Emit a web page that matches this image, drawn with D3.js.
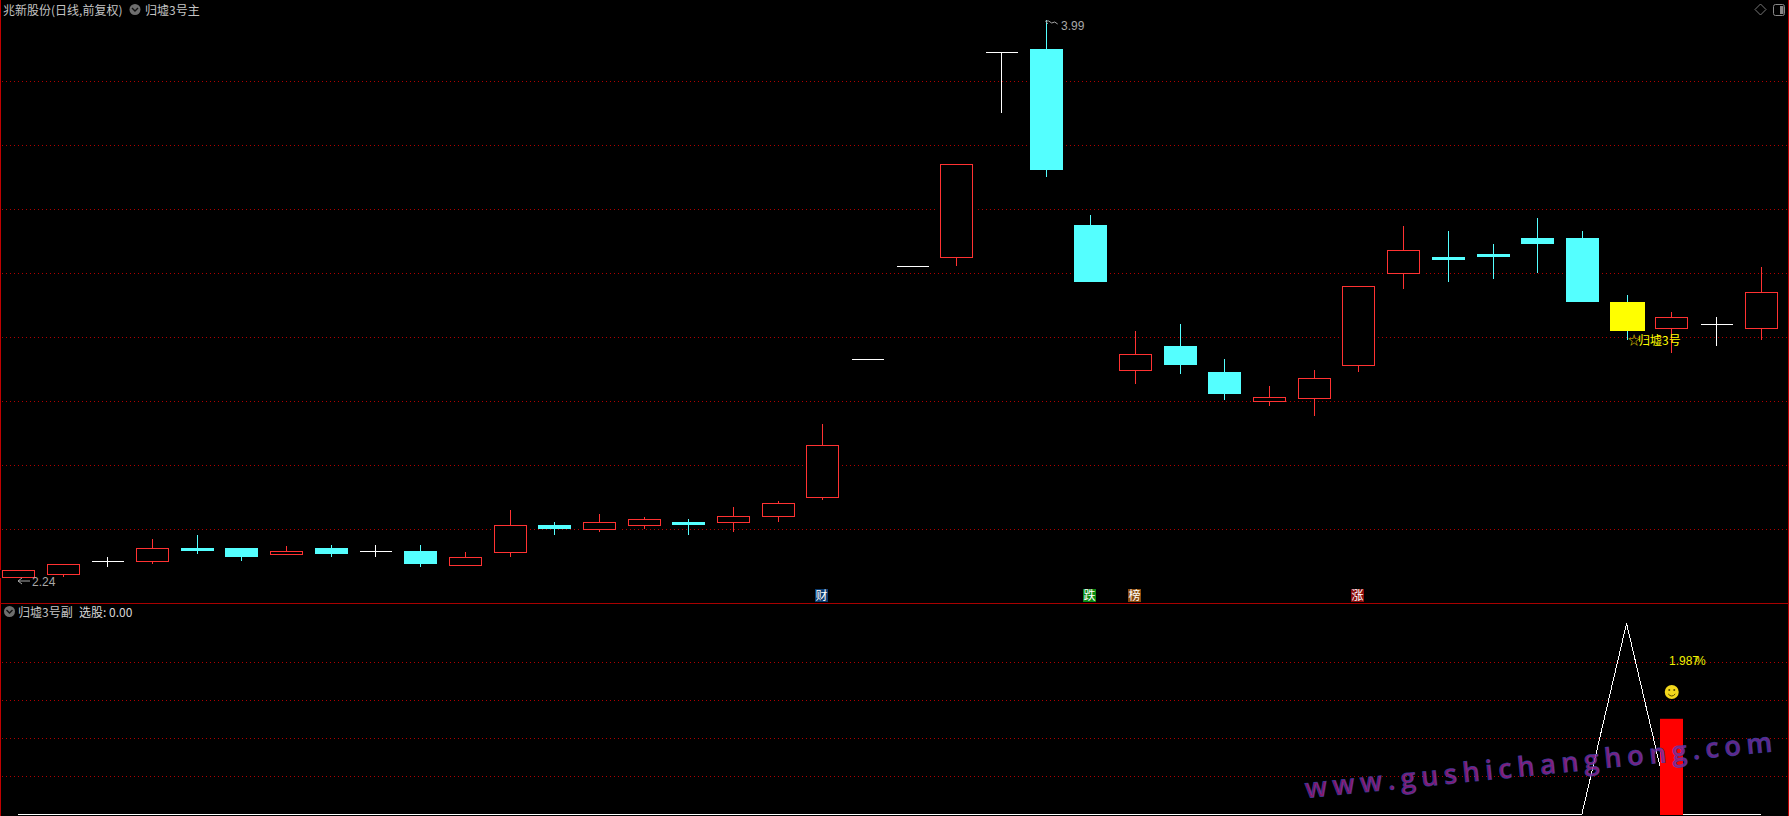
<!DOCTYPE html>
<html><head><meta charset="utf-8">
<script src="https://cdnjs.cloudflare.com/ajax/libs/d3/7.8.5/d3.min.js"></script>
<style>
html,body{margin:0;padding:0;background:#000;overflow:hidden}
svg{display:block}
text{font-family:"Noto Sans CJK SC","Liberation Sans",sans-serif}
</style></head><body><div id="c"></div>
<script>
const open  = [2.248,2.260,2.299,2.298,2.341,2.341,2.320,2.341,2.330,2.331,2.288,2.329,2.413,2.398,2.410,2.422,2.420,2.438,2.498,2.930,3.221,3.248,3.890,3.900,3.350,2.898,2.973,2.891,2.800,2.810,2.910,3.198,3.250,3.259,3.309,3.309,3.109,3.029,3.040,3.029];
const close = [2.271,2.290,2.299,2.340,2.331,2.313,2.330,2.322,2.330,2.291,2.312,2.412,2.400,2.421,2.430,2.413,2.440,2.480,2.662,2.930,3.221,3.540,3.890,3.522,3.172,2.948,2.913,2.822,2.813,2.871,3.158,3.271,3.241,3.250,3.291,3.109,3.019,3.062,3.040,3.140];
const high  = [2.271,2.290,2.313,2.368,2.381,2.341,2.347,2.350,2.350,2.350,2.328,2.459,2.422,2.447,2.438,2.431,2.469,2.488,2.728,2.930,3.221,3.540,3.890,3.991,3.381,3.019,3.041,2.931,2.847,2.897,3.158,3.347,3.331,3.291,3.372,3.331,3.131,3.078,3.063,3.219];
const low   = [2.248,2.251,2.281,2.292,2.322,2.300,2.320,2.313,2.313,2.281,2.288,2.313,2.381,2.391,2.400,2.381,2.391,2.422,2.491,2.930,3.221,3.223,3.701,3.501,3.172,2.852,2.884,2.802,2.784,2.752,2.891,3.150,3.172,3.181,3.200,3.109,2.991,2.950,2.972,2.991];
const signalLine = open.map((_,i)=> i===36 ? 1 : 0);
const barIndex = [37];
const barValue = [0.5];
const priceGrid = [2.4,2.6,2.8,3.0,3.2,3.4,3.6,3.8];
const subGrid = [0.2,0.4,0.6,0.8];
const tags = [{i:18,t:"财",c:"#0b3c70"},{i:24,t:"跌",c:"#0a8a12"},{i:25,t:"榜",c:"#8a4a0c"},{i:30,t:"涨",c:"#8a0c0c"}];
const titleMain = "兆新股份(日线,前复权)";
const titleInd = "归墟3号主";
const titleSub = "归墟3号副";
const pickLabel = "选股: 0.00";

const W=1789,H=816;
const svg=d3.select("#c").append("svg").attr("width",W).attr("height",H).style("background","#000");
const x=d3.scaleLinear().domain([0,39]).range([18,1760.6]);
const y=d3.scaleLinear().domain([2.4,3.8]).range([529,81]);
const y2=d3.scaleLinear().domain([0,1]).range([814.3,623.3]);
const px=v=>Math.round(v)+0.5;
const GRID="#b00000",SEP="#a80000",RED="#ff3232",CYAN="#54ffff",BW=33;

// grid
const grid=(vals,sc)=>svg.append("g").selectAll("line").data(vals).join("line")
  .attr("x1",2).attr("x2",W-2).attr("y1",d=>px(sc(d))).attr("y2",d=>px(sc(d)))
  .attr("stroke",GRID).attr("stroke-dasharray","1 3").attr("shape-rendering","crispEdges");
grid(priceGrid,y);grid(subGrid,y2);

// frame
const frame=svg.append("g").attr("shape-rendering","crispEdges");
frame.append("line").attr("x1",0.5).attr("x2",0.5).attr("y1",0).attr("y2",H).attr("stroke","#c00000");
frame.append("line").attr("x1",W-0.5).attr("x2",W-0.5).attr("y1",0).attr("y2",H).attr("stroke","#c00000");
frame.append("line").attr("x1",0).attr("x2",W).attr("y1",603.5).attr("y2",603.5).attr("stroke",SEP);

// candles
const colorOf=i=> i===36?CYAN : open[i]===close[i]?"#ffffff" : close[i]>open[i]?RED:CYAN;
const candles=svg.append("g").attr("shape-rendering","crispEdges").selectAll("g").data(open.map((_,i)=>i)).join("g");
candles.append("rect").filter(i=>open[i]!==close[i])
  .attr("x",i=>px(x(i))-BW/2-3).attr("width",BW+6)
  .attr("y",i=>y(Math.max(open[i],close[i]))).attr("height",i=>Math.abs(y(open[i])-y(close[i])))
  .attr("fill","#000");
candles.append("line")
  .attr("x1",i=>px(x(i))).attr("x2",i=>px(x(i)))
  .attr("y1",i=>y(high[i])).attr("y2",i=>y(low[i]))
  .attr("stroke",colorOf);
candles.each(function(i){
  const g=d3.select(this),c=colorOf(i),t=y(Math.max(open[i],close[i])),b=y(Math.min(open[i],close[i]));
  const cx=px(x(i));
  if(open[i]===close[i]){
    g.append("line").attr("x1",cx-16).attr("x2",cx+16).attr("y1",px(t)).attr("y2",px(t)).attr("stroke",c);
  }else if(close[i]>open[i]){
    g.append("rect").attr("x",cx-16).attr("width",32).attr("y",px(t)).attr("height",Math.round(b-t))
      .attr("fill","#000").attr("stroke",c);
  }else{
    const col=i===36?"#ffff00":c,wd=i===36?35:33;
    g.append("rect").attr("x",cx+0.5-Math.ceil(wd/2)).attr("width",wd).attr("y",Math.round(t)).attr("height",Math.round(b-t)).attr("fill",col);
  }
});

// tags
const tagG=svg.append("g").selectAll("g").data(tags).join("g");
tagG.append("rect").attr("x",d=>Math.round(x(d.i))-7).attr("y",589).attr("width",13).attr("height",13).attr("fill",d=>d.c);
tagG.append("text").attr("x",d=>Math.round(x(d.i))-0.5).attr("y",600).attr("text-anchor","middle")
  .attr("font-size",12).attr("fill","#fff").text(d=>d.t);

// price labels
const gray="#a8a8a8";
const lab=(t,xx,yy,s,c,a)=>svg.append("text").attr("x",xx).attr("y",yy).attr("font-size",s).attr("fill",c).attr("text-anchor",a||"start").text(t);
const num=(t,xx,yy,c)=>lab(t,xx,yy,12,c).style("font-family",'"Liberation Sans",sans-serif');
num("2.24",32,586,gray);
num("3.99",1061,30,gray);
svg.append("path").attr("d",`M${x(0)} 581H30M${x(0)} 581l4 -3M${x(0)} 581l4 3`).attr("stroke",gray).attr("fill","none");
svg.append("path").attr("d",`M${x(23)} 21h3M${x(23)} 21l2 3M${x(23)+3} 21l3 2l3 -1l3 2`).attr("stroke",gray).attr("fill","none");

// 归墟3号 mark
svg.append("text").attr("x",1628).attr("y",345).attr("font-size",12).attr("fill","#e6d800").text("☆");
lab("归墟3号",1638,345,12,"#ffff00");

// titles
lab(titleMain,3,15,12,"#c4c4c4");
lab(titleInd,145,15,12,"#c4c4c4");
lab(titleSub,18,617,12,"#c4c4c4");
lab(pickLabel,79,617,12,"#d8d8d8");
const chev=(cx,cy)=>{
  svg.append("circle").attr("cx",cx).attr("cy",cy).attr("r",5.5).attr("fill","#6e6e6e");
  svg.append("path").attr("d",`M${cx-3} ${cy-1.5}L${cx} ${cy+1.5}L${cx+3} ${cy-1.5}`).attr("stroke","#111").attr("stroke-width",1.4).attr("fill","none");
};
chev(135,9.5);chev(9.5,611.5);

// top-right icons
svg.append("path").attr("d","M1760.5 4L1766 9.5L1760.5 15L1755 9.5Z").attr("fill","none").attr("stroke","#777");
svg.append("rect").attr("x",1773.5).attr("y",4.5).attr("width",11).attr("height",11).attr("rx",2).attr("fill","none").attr("stroke","#888");
svg.append("rect").attr("x",1780).attr("y",6).attr("width",3.5).attr("height",8).attr("fill","#888");

// sub panel line
const line=d3.line().x((d,i)=>x(i)).y(d=>y2(d));
svg.append("path").datum(signalLine).attr("d",line).attr("fill","none").attr("stroke","#fff").attr("stroke-width",1).attr("shape-rendering","crispEdges");

// red bar
svg.append("g").selectAll("rect").data(barIndex).join("rect")
  .attr("x",d=>Math.round(x(d))-11).attr("width",23)
  .attr("y",(d,i)=>y2(barValue[i])).attr("height",(d,i)=>816-y2(barValue[i])-1)
  .attr("fill","#ff0000");

// percent text and smiley
num("1.987",1669,665,"#f0f000");
num("%",1695,665,"#f0f000");
const sx=x(37)+0.5,sy=692;
svg.append("circle").attr("cx",sx).attr("cy",sy).attr("r",7).attr("fill","#f2d81c");
svg.append("circle").attr("cx",sx-2.5).attr("cy",sy-2).attr("r",1).attr("fill","#5a4a00");
svg.append("circle").attr("cx",sx+2.5).attr("cy",sy-2).attr("r",1).attr("fill","#5a4a00");
svg.append("path").attr("d",`M${sx-3.5} ${sy+2}Q${sx} ${sy+6} ${sx+3.5} ${sy+2}`).attr("fill","none").attr("stroke","#5a4a00");

// watermark
const defs=svg.append("defs");
const lg=defs.append("linearGradient").attr("id","wm").attr("x1","0").attr("x2","1").attr("y1","0").attr("y2","0");
lg.append("stop").attr("offset","0").attr("stop-color","#a81c80");
lg.append("stop").attr("offset","0.6").attr("stop-color","#a02494");
lg.append("stop").attr("offset","1").attr("stop-color","#7030a8");
svg.append("text").text("www.gushichanghong.com")
  .attr("transform","translate(1306,798) rotate(-5.7)")
  .style("font-family",'"Open Sans","Noto Sans",sans-serif')
  .attr("font-size",27).attr("font-weight",600)
  .attr("letter-spacing",5.65)
  .attr("fill","url(#wm)").attr("fill-opacity",0.82)
  .attr("stroke","#4040a8").attr("stroke-width",0.9).attr("stroke-opacity",0.8);
</script></body></html>
